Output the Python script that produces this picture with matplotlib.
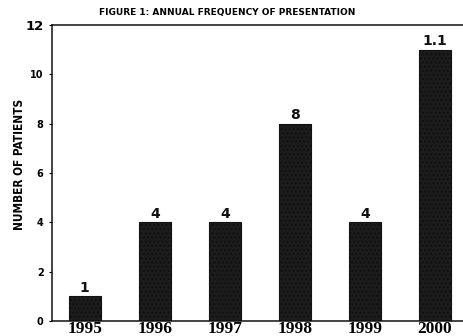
import matplotlib.pyplot as plt

years = ['1995', '1996', '1997', '1998', '1999', '2000']
patients = [1, 4, 4, 8, 4, 11]
bar_labels = ['1', '4', '4', '8', '4', '1.1']
yticks = [0, 2, 4, 6, 8, 10, 12]

plt.rcParams['hatch.color'] = '#5a5a5a'
fig = plt.figure(figsize=(4.63, 3.36), dpi=100)
ax = fig.add_axes([0.112, 0.045, 0.888, 0.881])

x = range(len(years))
bars = ax.bar(x, patients, width=0.46, color='#1c1c1c', edgecolor='#111111',
              hatch='....', linewidth=0.8)

for xi, v, lab in zip(x, patients, bar_labels):
    ax.text(xi, v + 0.06, lab, ha='center', va='bottom', fontsize=10,
            fontweight='bold', color='#111111')

ax.set_xlim(-0.47, 5.4)
ax.set_ylim(0, 12)
ax.set_yticks(yticks)
ax.set_yticklabels([str(t) for t in yticks], fontsize=7, fontweight='bold')
ax.get_yticklabels()[-1].set_fontsize(9.5)
ax.tick_params(axis='y', length=2, width=0.8, direction='out', pad=4)
ax.set_xticks(list(x))
ax.set_xticklabels(years, fontsize=12.5, fontweight='bold', family='Liberation Serif')
ax.tick_params(axis='x', length=0, pad=0)

ax.spines['right'].set_visible(False)
for s in ['left', 'bottom', 'top']:
    ax.spines[s].set_linewidth(1.1)
    ax.spines[s].set_color('#111111')

fig.text(0.042, 0.51, 'NUMBER OF PATIENTS', rotation=90, ha='center', va='center',
         fontsize=8.5, fontweight='bold', stretch='condensed', family='DejaVu Sans')
fig.text(0.49, 0.962, 'FIGURE 1: ANNUAL FREQUENCY OF PRESENTATION',
         ha='center', va='center', fontsize=6.5, fontweight='bold')

fig.savefig('out.png', dpi=100)
